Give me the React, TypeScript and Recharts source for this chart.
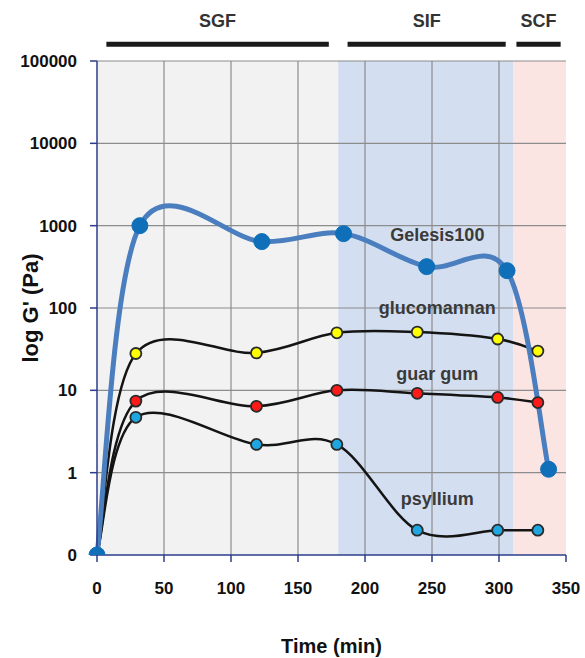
import React from 'react';
import {
  ComposedChart, Line, XAxis, YAxis, ReferenceArea, ReferenceLine, ReferenceDot,
} from 'recharts';

// sampling times (min)
const gelesisTime = [0, 32, 123, 184, 246, 306, 337];
const fiberTime = [0, 29, 119, 179, 239, 299, 329];

// G' values (Pa)
const gelesisG = [0.1, 1000, 640, 800, 318, 284, 1.1];
const glucomannanG = [0.1, 28, 28.5, 50, 51, 42, 30];
const guarGumG = [0.1, 7.4, 6.4, 10, 9.2, 8.2, 7.1];
const psylliumG = [0.1, 4.7, 2.2, 2.2, 0.2, 0.2, 0.2];

const xTicks = [0, 50, 100, 150, 200, 250, 300, 350];
const yTicks = [0.1, 1, 10, 100, 1000, 10000, 100000];
const xGrid = [50, 100, 150, 200, 250, 300];
const yGrid = [1, 10, 100, 1000, 10000, 100000];

// digestion phases
const phaseNames = ['SGF', 'SIF', 'SCF'];
const phaseStart = [0, 180, 310.5];
const phaseEnd = [180, 310.5, 350];
const phaseFill = ['#f2f2f2', '#d3dff0', '#fbe5e3'];
const barStart = [7, 187, 313];
const barEnd = [173, 305, 346];

const seriesLabels = ['Gelesis100', 'glucomannan', 'guar gum', 'psyllium'];
const labelY = [770, 100, 16, 0.48];

const toPoints = (xs: number[], ys: number[]) => xs.map((x, i) => ({ x, y: ys[i] }));

const gelesis = toPoints(gelesisTime, gelesisG);
const glucomannan = toPoints(fiberTime, glucomannanG);
const guarGum = toPoints(fiberTime, guarGumG);
const psyllium = toPoints(fiberTime, psylliumG);

// smooth line like the spreadsheet one (catmull-rom through the points)
function smoothCurve(context: any) {
  let pts: number[][] = [];
  return {
    areaStart() {},
    areaEnd() {},
    lineStart() { pts = []; },
    lineEnd() {
      const n = pts.length;
      if (!n) return;
      context.moveTo(pts[0][0], pts[0][1]);
      for (let i = 0; i < n - 1; i++) {
        const p0 = pts[Math.max(i - 1, 0)];
        const p1 = pts[i];
        const p2 = pts[i + 1];
        const p3 = pts[Math.min(i + 2, n - 1)];
        context.bezierCurveTo(
          p1[0] + (p2[0] - p0[0]) / 6, p1[1] + (p2[1] - p0[1]) / 6,
          p2[0] - (p3[0] - p1[0]) / 6, p2[1] - (p3[1] - p1[1]) / 6,
          p2[0], p2[1],
        );
      }
    },
    point(x: number, y: number) { pts.push([+x, +y]); },
  };
}

const axisColor = '#2b3c8a';
const gridColor = '#8c8c8c';
const tickStyle = { fill: '#111', fontSize: 17, fontWeight: 'bold' };

const fiberDot = (fill: string) => ({ r: 5.5, fill, stroke: '#2a2a2a', strokeWidth: 1.8 });

export default function App() {
  return (
    <div style={{ position: 'absolute', left: 0, top: 0, fontFamily: '"Liberation Sans", Arial, sans-serif' }}>
      <ComposedChart width={585} height={658} margin={{ top: 61, right: 19, bottom: 3, left: 0 }}>
        {phaseNames.map((p, i) => (
          <ReferenceArea key={p} x1={phaseStart[i]} x2={phaseEnd[i]} fill={phaseFill[i]} fillOpacity={1} strokeWidth={0} />
        ))}
        {xGrid.map((v) => (
          <ReferenceLine key={'gx' + v} x={v} stroke={gridColor} strokeWidth={1.2} />
        ))}
        {yGrid.map((v) => (
          <ReferenceLine key={'gy' + v} y={v} stroke={gridColor} strokeWidth={1.2} />
        ))}
        <XAxis
          type="number"
          dataKey="x"
          domain={[0, 350]}
          ticks={xTicks}
          height={100}
          tickSize={7}
          tickMargin={20}
          stroke={axisColor}
          strokeWidth={1.5}
          tick={tickStyle}
          label={{ value: 'Time (min)', position: 'insideBottom', offset: 2, fill: '#111', fontSize: 20, fontWeight: 'bold' }}
        />
        <YAxis
          type="number"
          scale="log"
          domain={[0.1, 100000]}
          allowDataOverflow
          ticks={yTicks}
          width={97}
          tickSize={7}
          tickMargin={13}
          stroke={axisColor}
          strokeWidth={1.5}
          tick={tickStyle}
          tickFormatter={(v: number) => (v < 1 ? '0' : String(v))}
          label={{
            value: "log G' (Pa)", angle: -90, position: 'insideLeft', offset: 30,
            fill: '#111', fontSize: 22, fontWeight: 'bold', style: { textAnchor: 'middle' },
          }}
        />
        {phaseNames.map((p, i) => (
          <ReferenceLine
            key={'bar' + p}
            segment={[{ x: barStart[i], y: 160000 }, { x: barEnd[i], y: 160000 }]}
            stroke="#1a1a1a"
            strokeWidth={5}
            ifOverflow="visible"
            label={{ value: p, position: 'top', offset: 17, fill: '#333', fontSize: 18, fontWeight: 'bold' }}
          />
        ))}
        <Line data={glucomannan} dataKey="y" type={smoothCurve as any} stroke="#141414" strokeWidth={2.5}
          dot={fiberDot('#ffff00')} isAnimationActive={false} />
        <Line data={guarGum} dataKey="y" type={smoothCurve as any} stroke="#141414" strokeWidth={2.5}
          dot={fiberDot('#ff1a1a')} isAnimationActive={false} />
        <Line data={psyllium} dataKey="y" type={smoothCurve as any} stroke="#141414" strokeWidth={2.5}
          dot={fiberDot('#1ea6e0')} isAnimationActive={false} />
        <Line data={gelesis} dataKey="y" type={smoothCurve as any} stroke="#4a7ebf" strokeWidth={5}
          dot={{ r: 8, fill: '#0f6fb8', stroke: '#0f6fb8', strokeWidth: 1 }} isAnimationActive={false} />
        {seriesLabels.map((s, i) => (
          <ReferenceDot key={s} x={254} y={labelY[i]} r={0} fill="none" stroke="none"
            label={{ value: s, position: 'center', fill: '#3a3a3a', fontSize: 18, fontWeight: 'bold' }} />
        ))}
      </ComposedChart>
    </div>
  );
}
